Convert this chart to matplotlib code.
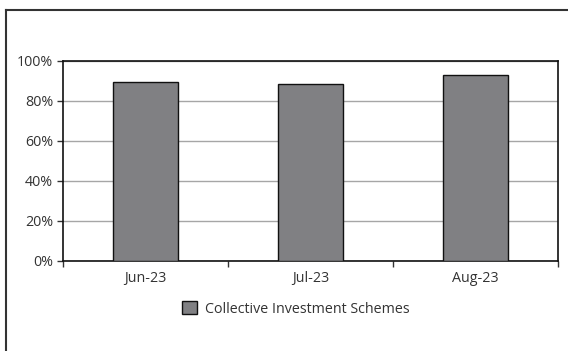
import matplotlib
matplotlib.use("Agg")
import matplotlib.pyplot as plt
from matplotlib.lines import Line2D
from matplotlib.patches import Patch
from matplotlib.ticker import FuncFormatter, FixedLocator

categories = ["Jun-23", "Jul-23", "Aug-23"]
values = [89.4, 88.3, 92.8]
series_name = "Collective Investment Schemes"
yticks = [0, 20, 40, 60, 80, 100]

plt.rcParams['font.family'] = ['Open Sans', 'DejaVu Sans']

fig = plt.figure(figsize=(5.68, 3.51), dpi=100)
W, H = 568, 351
ax = fig.add_axes([63/W, 1-261/H, 495/W, 200.5/H])

x = list(range(len(categories)))
ax.bar(x, values, width=0.39, color="#808083", edgecolor="#111111", linewidth=1.0, zorder=3)
ax.set_xlim(-0.5, len(categories)-0.5)
ax.set_ylim(0, 100)
ax.set_yticks(yticks)
ax.yaxis.set_major_formatter(FuncFormatter(lambda v, p: f"{int(v)}%"))
ax.grid(axis='y', color="#a6a6a6", linewidth=1.0, zorder=0)

ax.xaxis.set_major_locator(FixedLocator([i - 0.5 for i in range(len(categories)+1)]))
ax.xaxis.set_minor_locator(FixedLocator(x))
ax.xaxis.set_major_formatter(FuncFormatter(lambda v, p: ""))
ax.set_xticklabels(categories, minor=True)
ax.tick_params(axis='x', which='major', direction='out', length=4, width=1, color="#333333")
ax.tick_params(axis='x', which='minor', length=0, pad=7, labelsize=10.3, labelcolor="#333333")
ax.tick_params(axis='y', direction='out', length=4, width=1, color="#333333", labelsize=10.3, labelcolor="#333333", pad=3)
for s in ax.spines.values():
    s.set_color("#111111")
    s.set_linewidth(1.2)

handle = Patch(facecolor="#808083", edgecolor="#111111", linewidth=1.0)
fig.legend([handle], [series_name], loc='center', bbox_to_anchor=(296/W, 1-309/H),
           frameon=False, fontsize=10.3, handlelength=1.0, handleheight=1.0,
           handletextpad=0.6, labelcolor="#333333")

fig.add_artist(Line2D([5.5/W, 1], [1-9.5/H, 1-9.5/H], color="#333333", linewidth=1.5))
fig.add_artist(Line2D([5.5/W, 5.5/W], [0, 1-9.5/H], color="#333333", linewidth=1.5))

fig.savefig("out.png", dpi=100)
